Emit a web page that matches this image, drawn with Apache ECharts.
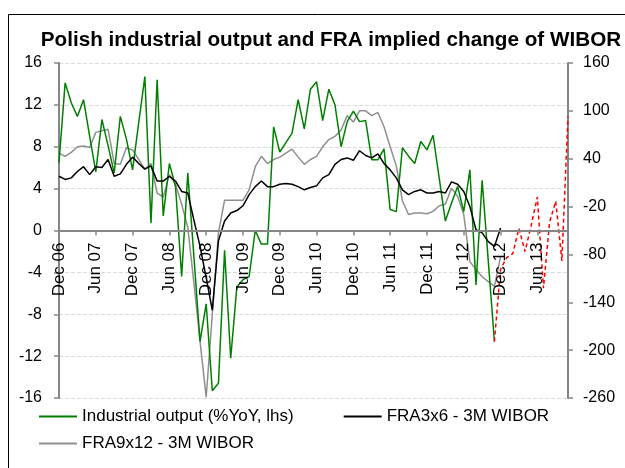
<!DOCTYPE html>
<html>
<head>
<meta charset="utf-8">
<script src="https://cdn.jsdelivr.net/npm/echarts@6/dist/echarts.min.js"></script>
<style>
html,body{margin:0;padding:0;background:#fff;}
#chart{width:625px;height:468px;}
</style>
</head>
<body>
<div id="chart"></div>
<script>
const categories = [
 'Dec 06',
 'Jan 07','Feb 07','Mar 07','Apr 07','May 07','Jun 07','Jul 07','Aug 07','Sep 07','Oct 07','Nov 07','Dec 07',
 'Jan 08','Feb 08','Mar 08','Apr 08','May 08','Jun 08','Jul 08','Aug 08','Sep 08','Oct 08','Nov 08','Dec 08',
 'Jan 09','Feb 09','Mar 09','Apr 09','May 09','Jun 09','Jul 09','Aug 09','Sep 09','Oct 09','Nov 09','Dec 09',
 'Jan 10','Feb 10','Mar 10','Apr 10','May 10','Jun 10','Jul 10','Aug 10','Sep 10','Oct 10','Nov 10','Dec 10',
 'Jan 11','Feb 11','Mar 11','Apr 11','May 11','Jun 11','Jul 11','Aug 11','Sep 11','Oct 11','Nov 11','Dec 11',
 'Jan 12','Feb 12','Mar 12','Apr 12','May 12','Jun 12','Jul 12','Aug 12','Sep 12','Oct 12','Nov 12','Dec 12',
 'Jan 13','Feb 13','Mar 13','Apr 13','May 13','Jun 13','Jul 13','Aug 13','Sep 13','Oct 13','Nov 13'
];

// Industrial output, %YoY (left axis)
const industrialOutput = [
 6.5,
 14.1,12.2,10.9,12.5,9.0,5.6,10.6,8.1,5.5,10.9,8.7,5.8,
 10.3,14.7,0.7,14.4,1.4,6.4,4.2,-4.4,5.5,-2.5,-10.6,-7.0,
 -15.3,-14.6,-1.9,-12.2,-5.4,-4.7,-4.4,0.0,-1.3,-1.3,9.9,7.5,
 8.4,9.3,12.5,9.7,13.5,14.2,10.5,13.5,12.0,8.0,10.4,11.4,
 10.4,10.5,6.75,6.75,7.8,2.0,1.8,7.9,7.1,6.4,8.5,7.7,
 9.1,5.0,0.9,2.6,4.2,1.8,5.8,-5.2,4.8,-2.9,-10.6,null,
 null,null,null,null,null,null,null,null,null,null,null
];

// Dashed continuation (left axis)
const outputPath = [
 null,
 null,null,null,null,null,null,null,null,null,null,null,null,
 null,null,null,null,null,null,null,null,null,null,null,null,
 null,null,null,null,null,null,null,null,null,null,null,null,
 null,null,null,null,null,null,null,null,null,null,null,null,
 null,null,null,null,null,null,null,null,null,null,null,null,
 null,null,null,null,null,null,null,null,null,null,-10.6,-3.7,
 -2.6,-2.2,0.2,-2.0,0.5,3.2,-5.5,0.8,2.8,-2.9,10.9
];

// FRA3x6 - 3M WIBOR, bp (right axis)
const fra3x6 = [
 18,
 14,16,24,30,20,30,29,39,18,21,33,42,
 34,27,31,12,12,18,12,-1,-3,-37,-70,-109,
 -150,-63,-38,-28,-25,-19,-5,5,12,5,5,8,
 9,8,5,1,4,6,16,20,33,39,41,38,
 50,44,41,46,34,26,16,1,-5,-1,1,-3,
 -3,-1,-3,11,8,-1,-20,-49,-53,-64,-70,-47,
 null,null,null,null,null,null,null,null,null,null,null
];

// FRA9x12 - 3M WIBOR, bp (right axis)
const fra9x12 = [
 47,
 43,48,55,56,54,73,75,77,34,33,54,51,
 39,27,34,-3,-8,20,8,-17,-46,-116,-189,-259,
 -155,-53,-12,-12,-12,-12,1,30,43,34,39,42,
 47,52,42,33,39,43,55,64,68,76,94,86,
 100,100,94,98,80,55,31,-13,-30,-28,-28,-29,
 -26,-19,-17,3,-7,-30,-89,-99,-108,-114,-120,-83,
 null,null,null,null,null,null,null,null,null,null,null
];

const leftTicks = {min: -16, max: 16, interval: 4};
const rightTicks = {min: -260, max: 160, interval: 60};

const FONT = '"Liberation Sans", Arial, sans-serif';
const axisGray = '#868686';
const PLOT_TOP = 63, PLOT_H = 335;

const chart = echarts.init(document.getElementById('chart'), null, {renderer: 'canvas'});
chart.setOption({
  animation: false,
  backgroundColor: '#fff',
  textStyle: {fontFamily: FONT},
  graphic: [
    {type: 'rect', left: 6, top: 12, shape: {width: 700, height: 600},
     style: {fill: 'none', stroke: '#000', lineWidth: 1}, silent: true},
    {type: 'text', x: 331, y: 40,
     style: {text: 'Polish industrial output and FRA implied change of WIBOR',
             font: 'bold 20.7px ' + FONT, fill: '#000',
             align: 'center', verticalAlign: 'middle',
             textAlign: 'center', textVerticalAlign: 'middle'}}
  ],
  grid: [
    {left: 59, right: 57, top: PLOT_TOP, height: PLOT_H, containLabel: false},
    // upper half: its bottom edge sits on the zero line of the left axis
    {left: 59, right: 57, top: PLOT_TOP, height: PLOT_H / 2, containLabel: false}
  ],
  legend: [
    {data: ['Industrial output (%YoY, lhs)', 'FRA3x6 - 3M WIBOR'],
     left: 39, top: 408, padding: 0, icon: 'rect', itemWidth: 38, itemHeight: 2, itemGap: 50,
     textStyle: {fontSize: 17, color: '#000', fontFamily: FONT}},
    {data: ['FRA9x12 - 3M WIBOR'],
     left: 39, top: 435, padding: 0, icon: 'rect', itemWidth: 38, itemHeight: 2,
     textStyle: {fontSize: 17, color: '#000', fontFamily: FONT}}
  ],
  xAxis: [
    {type: 'category', gridIndex: 0, data: categories, boundaryGap: false,
     axisLine: {show: false}, axisTick: {show: false}, axisLabel: {show: false}, splitLine: {show: false}},
    {type: 'category', gridIndex: 1, data: categories, boundaryGap: false, position: 'bottom',
     axisLine: {onZero: false, lineStyle: {color: axisGray, width: 2}},
     axisTick: {interval: 5, length: 5, lineStyle: {color: axisGray, width: 1.5}},
     axisLabel: {interval: 5, rotate: 90, fontSize: 17, color: '#000', margin: 12, fontFamily: FONT},
     splitLine: {show: false}, z: 6}
  ],
  yAxis: [
    {type: 'value', gridIndex: 0, position: 'left', min: leftTicks.min, max: leftTicks.max, interval: leftTicks.interval,
     axisLine: {show: true, onZero: false, lineStyle: {color: axisGray, width: 2}},
     axisTick: {show: true, length: 5, lineStyle: {color: axisGray, width: 1.5}},
     axisLabel: {fontSize: 16, color: '#000', margin: 17, fontFamily: FONT},
     splitLine: {show: true, lineStyle: {color: '#d9d9d9', type: 'dashed', width: 1}}},
    {type: 'value', gridIndex: 0, position: 'right', min: rightTicks.min, max: rightTicks.max, interval: rightTicks.interval,
     axisLine: {show: true, onZero: false, lineStyle: {color: axisGray, width: 2}},
     axisTick: {show: true, length: 5, lineStyle: {color: axisGray, width: 1.5}},
     axisLabel: {fontSize: 16, color: '#000', margin: 15, fontFamily: FONT},
     splitLine: {show: false}},
    {type: 'value', gridIndex: 1, min: 0, max: 1, show: false}
  ],
  series: [
    {name: 'Industrial output (%YoY, lhs)', type: 'line', xAxisIndex: 0, yAxisIndex: 0, data: industrialOutput,
     showSymbol: false, symbol: 'none', color: '#008000', lineStyle: {width: 1.5, color: '#008000'}, z: 3},
    {name: 'FRA9x12 - 3M WIBOR', type: 'line', xAxisIndex: 0, yAxisIndex: 1, data: fra9x12,
     showSymbol: false, symbol: 'none', color: '#8f8f8f', lineStyle: {width: 1.5, color: '#8f8f8f'}, z: 2},
    {name: 'FRA3x6 - 3M WIBOR', type: 'line', xAxisIndex: 0, yAxisIndex: 1, data: fra3x6,
     showSymbol: false, symbol: 'none', color: '#000', lineStyle: {width: 1.5, color: '#000'}, z: 4},
    {name: 'path', type: 'line', xAxisIndex: 0, yAxisIndex: 0, data: outputPath,
     showSymbol: false, symbol: 'none', color: '#ff0000', lineStyle: {width: 1.5, color: '#ff0000', type: [4, 3]}, z: 5}
  ]
});
</script>
</body>
</html>
